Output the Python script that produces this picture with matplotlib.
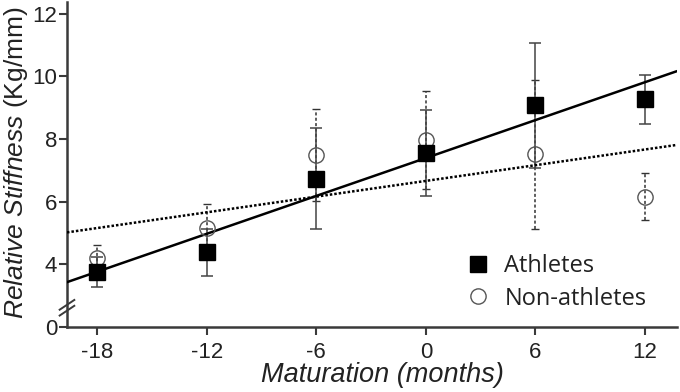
import numpy as np
import matplotlib.pyplot as plt
from matplotlib.lines import Line2D

plt.rcParams['font.family'] = 'Liberation Sans'
plt.rcParams['mathtext.fontset'] = 'custom'
plt.rcParams['mathtext.rm'] = 'Liberation Sans'
plt.rcParams['mathtext.it'] = 'Liberation Sans:italic'

# maturation time points (months)
months = [-18, -12, -6, 0, 6, 12]

# athletes: mean and error
ath_mean = [3.75, 4.38, 6.73, 7.56, 9.08, 9.27]
ath_err = [0.48, 0.76, 1.61, 1.37, 2.0, 0.78]

# non-athletes
non_mean = [4.19, 5.17, 7.49, 7.97, 7.52, 6.16]
non_err = [0.44, 0.77, 1.46, 1.57, 2.38, 0.75]

# regression line ends
fit_x = [-19.65, 13.7]
fit_ath = [3.43, 10.16]
fit_non = [5.02, 7.81]

AXIS_COLOR = '#3a3a3a'

fig = plt.figure(figsize=(6.8, 3.92), dpi=100)
ax = fig.add_axes([0.0985, 0.166, 0.897, 0.829])

# error bars (non-athletes dotted)
eb = ax.errorbar(months, non_mean, yerr=non_err, fmt='none', ecolor='#333333',
                 elinewidth=1.1, capsize=3, capthick=1.0, zorder=2)
for c in eb[2]:
    c.set_linestyle((0, (2, 1.5)))
ax.errorbar(months, ath_mean, yerr=ath_err, fmt='none', ecolor='#444444',
            elinewidth=1.1, capsize=4, capthick=1.1, zorder=2)

# regression lines
ax.plot(fit_x, fit_ath, color='black', lw=1.8, zorder=3)
ax.plot(fit_x, fit_non, color='black', lw=1.8, linestyle=(0, (1, 0.8)), zorder=3)

# markers
ax.plot(months, non_mean, 'o', ms=11, mfc='none', mec='#555555', mew=1.0, zorder=4)
ax.plot(months, ath_mean, 's', ms=11, mfc='black', mec='black', zorder=5)

ax.set_xlim(-19.65, 13.75)
ax.set_ylim(2, 12.38)
ax.set_xticks(months)
ax.set_xticklabels([str(m) for m in months])
ax.set_yticks([2, 4, 6, 8, 10, 12])
ax.set_yticklabels(['0', '4', '6', '8', '10', '12'])

for s in ['top', 'right']:
    ax.spines[s].set_visible(False)
for s in ['left', 'bottom']:
    ax.spines[s].set_color(AXIS_COLOR)
    ax.spines[s].set_linewidth(1.8)

ax.tick_params(axis='both', colors=AXIS_COLOR, length=6, width=1.5,
               labelsize=16, labelcolor='#222222')
ax.tick_params(axis='x', pad=5)
ax.tick_params(axis='y', pad=1)

# axis break marks on y axis
for dy in (0.0, 0.018):
    ax.plot([-0.012, 0.012], [0.035 + dy, 0.065 + dy], transform=ax.transAxes,
            color=AXIS_COLOR, lw=1.4, clip_on=False, zorder=6)

# axis labels
fig.text(0.024, 0.585, r'$\it{Relative\ Stiffness}$ (Kg/mm)', rotation=90,
         ha='center', va='center', fontsize=19, color='#222222')
fig.text(0.563, 0.043, 'Maturation (months)', fontsize=19.5, style='italic',
         color='#222222', ha='center', va='center')

handles = [
    Line2D([], [], marker='s', ls='none', ms=11, mfc='black', mec='black'),
    Line2D([], [], marker='o', ls='none', ms=11, mfc='none', mec='#555555', mew=1.0),
]
leg = ax.legend(handles, ['Athletes', 'Non-athletes'], loc='lower right',
                bbox_to_anchor=(0.985, -0.015), frameon=False,
                prop={'family': 'Open Sans', 'size': 17}, handletextpad=0.5,
                labelspacing=0.35, handlelength=1.2)
for t in leg.get_texts():
    t.set_color('#222222')

fig.savefig('out.png', dpi=100)
